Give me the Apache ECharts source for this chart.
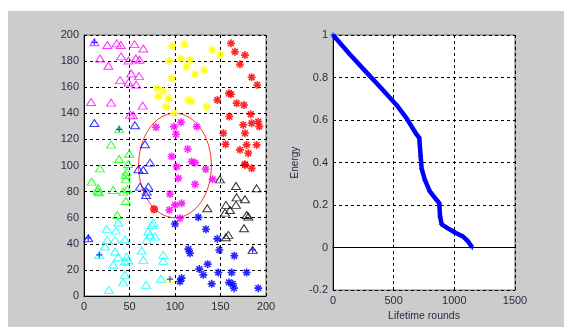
<!DOCTYPE html>
<html>
<head>
<meta charset="utf-8">
<script src="https://cdn.jsdelivr.net/npm/echarts@6/dist/echarts.min.js"></script>
<style>
  html, body { margin: 0; padding: 0; background: #fff; }
  .frame { position: absolute; left: 8px; top: 11px; width: 556px; height: 316px; background: #cccccc; }
  #chart { position: absolute; left: 0; top: 0; width: 564px; height: 327px; }
</style>
</head>
<body>
<div class="frame"></div>
<div id="chart"></div>
<script>
// left plot: node field (x, y in metres)
const magentaTri = [[11.4,194.4],[25.7,192.3],[36,193.6],[40.4,192.3],[55.5,193],[65.2,189.7],[17.6,182],[40.8,183.6],[48.9,180.5],[57,182],[61,181],[26.8,176.4],[51.8,170.5],[60.5,168.5],[39.7,165.4],[48.9,163.6],[57.4,162],[7.7,148.7],[29.8,148.2],[64.5,145.9],[50.7,139],[53.7,138.5]]
const blueTri = [[11.4,132.6],[56,130.8],[67,116.3],[72.6,102.2],[59.8,97.1],[65.2,96.6],[61.6,83.8],[70.7,83.8],[68.9,80],[68.2,77.4],[4.7,44.3]]
const greenTri = [[38.6,127.7],[29.8,116],[38.6,105],[49.6,109],[48.6,101.1],[17.5,97.8],[46.8,95.3],[46,92.7],[46,89.4],[8.4,87.6],[15.7,82.5],[15,80.7],[16.4,79.5],[32.1,81.2],[43.1,80],[47.5,81.8],[46,72.8],[36.5,62.1]]
const cyanTri = [[37.6,56.3],[24.8,51.4],[35,50.1],[25.5,43],[34,43],[45,43.5],[23,37.9],[16.8,31.5],[34,34.1],[37.6,29.7],[46.8,30.2],[45,26.4],[48.6,27.2],[32.1,23.9],[45,16.2],[43.1,10.4],[27.4,4.7],[76.2,56],[74.4,54.5],[70.7,49.4],[72.6,46.8],[78.1,45.5],[68.9,43],[63.4,34.9],[65.2,27.7],[87.2,31.5],[87.2,26.9],[84.6,13.2],[68.2,8.6]]
const blackTri = [[149.4,89.4],[167,84.3],[189.7,82.5],[167.7,75.6],[176.9,74.1],[135.5,67.2],[156,69.8],[160.4,65.9],[155,63.9],[167,69.8],[178.7,62.1],[180.5,60.9],[175.8,51.9],[158.6,46.8],[156,45],[185.3,35.3]]
const yellowTri = [[94.5,12.9]]
const yellowStar = [[97,191.5],[110.3,193],[141,188.5],[150,185],[93.4,180],[106.2,182],[116.5,180.8],[112.8,175.7],[131.9,173.2],[122,170],[96.3,166.8],[80.6,159.1],[87.2,157.1],[81.7,152.8],[92.7,151.5],[114.7,150.2],[118.3,149],[90.1,145.1],[134.8,145.1],[98.9,140]]
const redStar = [[161.5,193.6],[165.9,187.2],[176.9,184.6],[171.4,177.5],[184.2,167.6],[190.4,161.7],[159.3,155.3],[161.5,154.6],[146.5,150.2],[167.7,147.7],[175.8,146.4],[159.7,137.5],[183.1,139.3],[175,131.1],[184.2,132.4],[191.5,133.6],[192.6,129.8],[153.1,124.7],[176.9,124.7],[155.6,116.3],[178.7,115.8],[189.7,115.8],[171.4,112],[180.5,109.4],[176.9,101],[176.9,100.4],[184.2,97.8],[77,66.5]]
const magentaStar = [[79.1,129.3],[106.6,133.1],[98.9,129.8],[123.8,129.8],[101.1,124],[113.9,112.7],[96.3,106.9],[118.3,103],[122,102.2],[101.8,99.1],[133.7,97.1],[103.7,90.2],[122,85.6],[141.4,89.4],[94.5,78.2],[107.3,71],[100,69.8],[93.8,65.9],[105.5,59.6]]
const blueStar = [[125.6,60.3],[100,55.2],[134,51.2],[146.5,43.8],[114.7,35.9],[116.5,32.8],[148.7,35.3],[165.2,30.8],[135.9,24.4],[126.7,20.6],[131.1,16.2],[147.6,18],[162.2,18],[178.7,18],[107.3,13.7],[105.5,11.1],[140.3,9.3],[159.3,10.4],[163.3,9.3],[164.8,6],[191.5,6]]
// cluster heads (triangle with a plus) and the red head with a circle
const heads = [[11.4,194.4],[38.6,127.7],[4.7,44.3],[16.8,31.5],[185.3,35.3],[94.5,12.9]]
const headColors = ['#ff00ff','#00ff00','#0000ff','#00ffff','#000000','#ffff00']
const redHead = [[77,66.5]]
// coverage circle: centre x, centre y, radius
const zone = [[100,100,40]]

// right plot: residual energy over rounds
const rounds = [0,140,278,415,525,607,690,711,722,731,758,799,854,876,882,896,937,1005,1074,1115,1148]
const energy = [1,0.908,0.823,0.739,0.67,0.608,0.531,0.516,0.432,0.37,0.317,0.263,0.224,0.209,0.147,0.109,0.094,0.071,0.051,0.028,0]

const STAR = 'path://M0,-5L0,5M-5,0L5,0M-3.6,-3.6L3.6,3.6M-3.6,3.6L3.6,-3.6'
const PLUS = 'path://M0,-5L0,5M-5,0L5,0'
const labelColor = '#2b2b40'
const font = 'Liberation Sans, Arial, sans-serif'

function tri(data, color) {
  return { type: 'scatter', xAxisIndex: 0, yAxisIndex: 0, data, symbol: 'triangle', symbolSize: [9, 7],
    itemStyle: { color: 'rgba(0,0,0,0)', borderColor: color, borderWidth: 1 }, z: 3 }
}
function star(data, color) {
  return { type: 'scatter', xAxisIndex: 0, yAxisIndex: 0, data, symbol: STAR, symbolSize: 8,
    itemStyle: { color: 'rgba(0,0,0,0)', borderColor: color, borderWidth: 1.6, opacity: 0.85 }, z: 3 }
}

const axisCommon = {
  axisLine: { show: true, lineStyle: { color: '#000', width: 1 } },
  axisTick: { show: true, inside: true, length: 3, lineStyle: { color: '#000' } },
  axisLabel: { color: labelColor, fontSize: 11, fontFamily: font, margin: 5, formatter: v => String(v) },
  splitLine: { show: true, lineStyle: { color: '#000', type: [3, 3], width: 1 } }
}

const chart = echarts.init(document.getElementById('chart'))
chart.setOption({
  animation: false,
  grid: [
    { left: 84, top: 35, width: 182, height: 261, show: true, backgroundColor: '#fff', borderColor: '#666', borderWidth: 1 },
    { left: 333, top: 35, width: 182, height: 261, show: true, backgroundColor: '#fff', borderColor: '#666', borderWidth: 1 }
  ],
  xAxis: [
    { ...axisCommon, gridIndex: 0, type: 'value', min: 0, max: 200, interval: 50 },
    { ...axisCommon, gridIndex: 1, type: 'value', min: 0, max: 1500, interval: 500,
      name: 'Lifetime rounds', nameLocation: 'middle', nameGap: 18, nameTextStyle: { color: labelColor, fontSize: 10.5, fontFamily: font } }
  ],
  yAxis: [
    { ...axisCommon, gridIndex: 0, type: 'value', min: 0, max: 200, interval: 20 },
    { ...axisCommon, gridIndex: 1, type: 'value', min: -0.2, max: 1, interval: 0.2,
      axisLabel: { ...axisCommon.axisLabel, formatter: v => String(Math.round(v * 10) / 10) },
      name: 'Energy', nameLocation: 'middle', nameGap: 33, nameRotate: 90, nameTextStyle: { color: labelColor, fontSize: 10, fontFamily: font } }
  ],
  series: [
    tri(magentaTri, '#ff00ff'),
    tri(blueTri, '#0000ff'),
    tri(greenTri, '#00ff00'),
    tri(cyanTri, '#00ffff'),
    tri(blackTri, '#000000'),
    tri(yellowTri, '#ffff00'),
    star(yellowStar, '#ffff00'),
    star(redStar, '#ff0000'),
    star(magentaStar, '#ff00ff'),
    star(blueStar, '#0000ff'),
    { type: 'scatter', xAxisIndex: 0, yAxisIndex: 0, data: heads, symbol: PLUS, symbolSize: 6, z: 4,
      itemStyle: { color: 'rgba(0,0,0,0)', borderWidth: 1.2, borderColor: p => headColors[p.dataIndex] } },
    { type: 'scatter', xAxisIndex: 0, yAxisIndex: 0, data: redHead, symbol: 'circle', symbolSize: 7, z: 4,
      itemStyle: { color: 'rgba(0,0,0,0)', borderColor: '#ff0000', borderWidth: 1 } },
    {
      type: 'custom', xAxisIndex: 0, yAxisIndex: 0, data: zone, z: 2,
      renderItem: (params, api) => {
        const c = api.coord([api.value(0), api.value(1)])
        const s = api.size([api.value(2), api.value(2)])
        return { type: 'ellipse', shape: { cx: c[0], cy: c[1], rx: s[0], ry: s[1] },
          style: { fill: 'none', stroke: '#ff3030', lineWidth: 1 } }
      }
    },
    {
      type: 'line', xAxisIndex: 1, yAxisIndex: 1, data: rounds.map((r, i) => [r, energy[i]]),
      symbol: PLUS, symbolSize: 5, showSymbol: true,
      lineStyle: { color: '#0000ff', width: 4.5 },
      itemStyle: { color: '#0000ff', borderColor: '#0000ff', borderWidth: 1 }
    }
  ]
})
</script>
</body>
</html>
